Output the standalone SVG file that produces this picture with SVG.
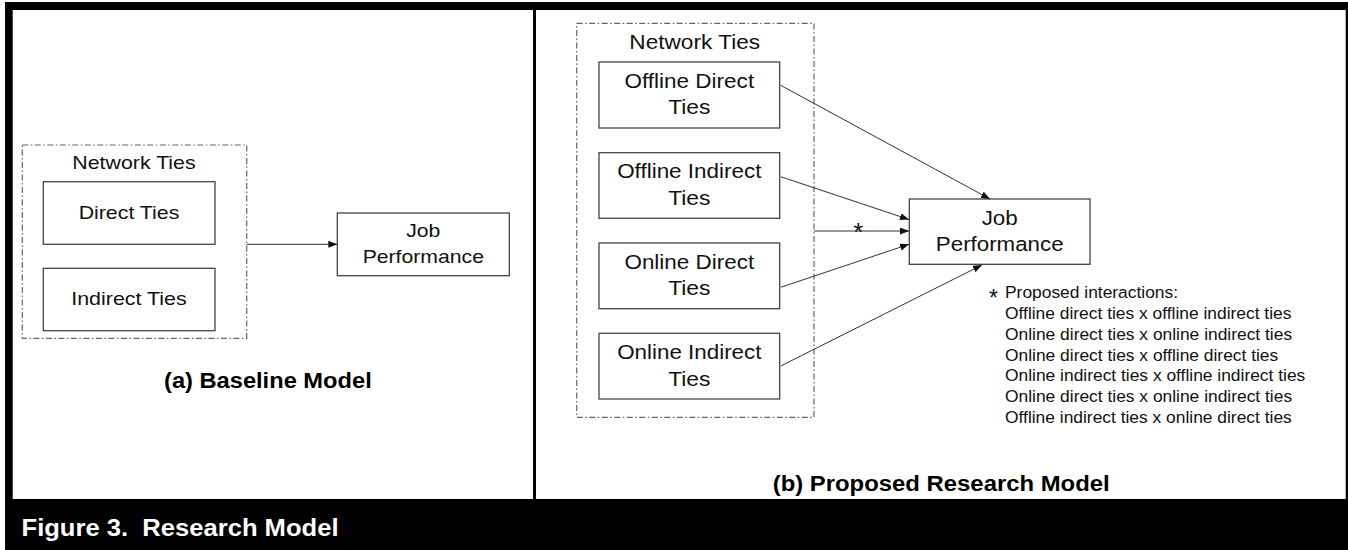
<svg xmlns="http://www.w3.org/2000/svg" width="1348" height="550" viewBox="0 0 1348 550">
<style>
.lbl{font-family:"Liberation Sans",Arial,sans-serif;fill:#111;text-anchor:middle}
.l{font-size:19px}
.r{font-size:20.5px}
.note{font-family:"Liberation Sans",Arial,sans-serif;fill:#111;font-size:17.4px}
.ttl{font-family:"Liberation Sans",Arial,sans-serif;font-weight:bold;fill:#000}
.box{fill:#fff;stroke:#444;stroke-width:1.3}
.grp{fill:none;stroke:#666;stroke-width:1.2;stroke-dasharray:6 2.5 1.5 2.5}
.con{stroke:#333;stroke-width:1;fill:none;marker-end:url(#ah)}
</style>
<defs>
<marker id="ah" markerUnits="userSpaceOnUse" markerWidth="10" markerHeight="8" refX="9" refY="3.5" orient="auto">
<path d="M0,0 L9,3.5 L0,7 z" fill="#111"/>
</marker>
</defs>
<rect x="0" y="0" width="1348" height="550" fill="#fff"/>
<rect x="5" y="2" width="1343" height="548" fill="#000"/>
<rect x="12.7" y="10" width="520.3" height="489" fill="#fff"/>
<rect x="536" y="10" width="809.7" height="489" fill="#fff"/>
<text class="ttl" x="21.5" y="536" font-size="24" style="fill:#fff" textLength="317" lengthAdjust="spacingAndGlyphs" xml:space="preserve">Figure 3.  Research Model</text>

<g id="left-group">
<rect class="grp" x="22.3" y="145" width="224.4" height="193.3"/>
<text class="lbl l" x="134" y="169" textLength="123.3" lengthAdjust="spacingAndGlyphs">Network Ties</text>
</g>
<g id="left-direct">
<rect class="box" x="43.3" y="181.7" width="171.7" height="62.6"/>
<text class="lbl l" x="129" y="219" textLength="100.7" lengthAdjust="spacingAndGlyphs">Direct Ties</text>
</g>
<g id="left-indirect">
<rect class="box" x="43.3" y="268.3" width="171.7" height="62.4"/>
<text class="lbl l" x="129" y="305" textLength="115.5" lengthAdjust="spacingAndGlyphs">Indirect Ties</text>
</g>
<g id="left-job">
<rect class="box" x="337.3" y="213" width="172" height="62.7"/>
<text class="lbl l" x="423.3" y="236.7" textLength="34.2" lengthAdjust="spacingAndGlyphs">Job</text>
<text class="lbl l" x="423.3" y="263.3" textLength="121.3" lengthAdjust="spacingAndGlyphs">Performance</text>
</g>
<text class="ttl" x="164" y="388.3" font-size="21.5" textLength="207.7" lengthAdjust="spacingAndGlyphs">(a) Baseline Model</text>

<g id="right-group">
<rect class="grp" x="576.7" y="23.3" width="237.3" height="394"/>
<text class="lbl r" x="694.7" y="49.3" textLength="130.7" lengthAdjust="spacingAndGlyphs">Network Ties</text>
</g>
<g id="offline-direct">
<rect class="box" x="599" y="62" width="180.7" height="66"/>
<text class="lbl r" x="689.3" y="87.5" textLength="129.7" lengthAdjust="spacingAndGlyphs">Offline Direct</text>
<text class="lbl r" x="689.3" y="114.3" textLength="42.3" lengthAdjust="spacingAndGlyphs">Ties</text>
</g>
<g id="offline-indirect">
<rect class="box" x="599" y="152.7" width="180.7" height="65.6"/>
<text class="lbl r" x="689.3" y="178" textLength="144.3" lengthAdjust="spacingAndGlyphs">Offline Indirect</text>
<text class="lbl r" x="689.3" y="204.5" textLength="42.3" lengthAdjust="spacingAndGlyphs">Ties</text>
</g>
<g id="online-direct">
<rect class="box" x="599" y="243" width="180.7" height="65.7"/>
<text class="lbl r" x="689.3" y="268.5" textLength="129.7" lengthAdjust="spacingAndGlyphs">Online Direct</text>
<text class="lbl r" x="689.3" y="295" textLength="42.3" lengthAdjust="spacingAndGlyphs">Ties</text>
</g>
<g id="online-indirect">
<rect class="box" x="599" y="333.3" width="180.7" height="65.7"/>
<text class="lbl r" x="689.3" y="359" textLength="144.3" lengthAdjust="spacingAndGlyphs">Online Indirect</text>
<text class="lbl r" x="689.3" y="385.5" textLength="42.3" lengthAdjust="spacingAndGlyphs">Ties</text>
</g>
<g id="right-job">
<rect class="box" x="909.3" y="199" width="180.7" height="65.3"/>
<text class="lbl r" x="999.7" y="225" textLength="36.1" lengthAdjust="spacingAndGlyphs">Job</text>
<text class="lbl r" x="999.7" y="251" textLength="127.7" lengthAdjust="spacingAndGlyphs">Performance</text>
</g>

<g id="connectors">
<line class="con" x1="246.7" y1="244.3" x2="337.3" y2="244.3"/>
<line class="con" x1="780.7" y1="85.3" x2="990" y2="199"/>
<line class="con" x1="780.7" y1="176.7" x2="909" y2="219.5"/>
<line class="con" x1="814" y1="231" x2="909" y2="231"/>
<line class="con" x1="780.7" y1="287.3" x2="909" y2="244.3"/>
<line class="con" x1="780.7" y1="366" x2="982" y2="265"/>
<text class="lbl" x="858.3" y="241" font-size="26">*</text>
</g>

<g id="notes">
<text class="note" x="989" y="306" style="font-size:23px">*</text>
<text class="note" x="1005" y="298">Proposed interactions:</text>
<text class="note" x="1005" y="319">Offline direct ties x offline indirect ties</text>
<text class="note" x="1005" y="340">Online direct ties x online indirect ties</text>
<text class="note" x="1005" y="360.7">Online direct ties x offline direct ties</text>
<text class="note" x="1005" y="381.3">Online indirect ties x offline indirect ties</text>
<text class="note" x="1005" y="402">Online direct ties x online indirect ties</text>
<text class="note" x="1005" y="422.7">Offline indirect ties x online direct ties</text>
</g>
<text class="ttl" x="772.7" y="491" font-size="22" textLength="337" lengthAdjust="spacingAndGlyphs">(b) Proposed Research Model</text>
</svg>
